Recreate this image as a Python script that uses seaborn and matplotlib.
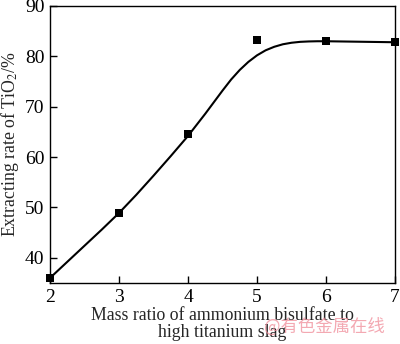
import matplotlib
matplotlib.use("Agg")
import matplotlib.pyplot as plt
import seaborn as sns
import pandas as pd

# measured points
ratio = [2, 3, 4, 5, 6, 7]
rate = [36.0, 48.9, 64.6, 83.3, 83.0, 82.8]

# fitted curve
curve_x = [2, 2.25, 2.5, 2.75, 3, 3.25, 3.5, 3.75, 4, 4.125, 4.25, 4.375, 4.5, 4.625,
           4.75, 4.875, 5, 5.125, 5.25, 5.375, 5.5, 5.625, 5.75, 5.875, 6, 6.5, 7]
curve_y = [36.0, 39.2, 42.4, 45.6, 48.9, 52.5, 56.3, 60.2, 64.2, 66.4, 68.6, 70.9, 73.2, 75.4,
           77.3, 78.9, 80.2, 81.2, 81.9, 82.4, 82.7, 82.88, 82.96, 83.0, 83.0, 82.9, 82.8]

xticks = [2, 3, 4, 5, 6, 7]
yticks = [40, 50, 60, 70, 80, 90]

sns.set_theme(style="ticks")
plt.rcParams['font.family'] = ['Liberation Serif', 'DejaVu Serif']
plt.rcParams['mathtext.fontset'] = 'stix'

fig = plt.figure(figsize=(4.0, 3.44), dpi=100)
ax = fig.add_axes([0.125, 0.1773, 0.8625, 0.8053])

df_c = pd.DataFrame({"x": curve_x, "y": curve_y})
df_p = pd.DataFrame({"x": ratio, "y": rate})
sns.lineplot(data=df_c, x="x", y="y", ax=ax, color="black", linewidth=1.5, sort=True)
ax.lines[-1].set_solid_joinstyle("round")
sns.scatterplot(data=df_p, x="x", y="y", ax=ax, color="black", marker="s", s=32,
                edgecolor="black", linewidth=0, zorder=5, clip_on=False)

ax.set_xlim(2, 7)
ax.set_ylim(35, 90)
ax.set_xticks(xticks)
ax.set_yticks(yticks)
ax.tick_params(direction="in", length=5, width=1, labelsize=14, colors="black", pad=4,
               top=False, right=False)
for sp in ax.spines.values():
    sp.set_linewidth(1)
    sp.set_color("black")
ax.set_xlabel("Mass ratio of ammonium bisulfate to\nhigh titanium slag", fontsize=12.8,
              linespacing=1.0, labelpad=1)
ax.set_ylabel("Extracting rate of TiO$_2$/%", fontsize=12.8, labelpad=3)

fig.text(0.66, 0.035, "@有色金属在线", fontsize=12.5, color=(0.94, 0.55, 0.6), alpha=0.75,
         family=['Noto Sans CJK SC', 'DejaVu Sans'])

fig.savefig("out.png", dpi=100)
